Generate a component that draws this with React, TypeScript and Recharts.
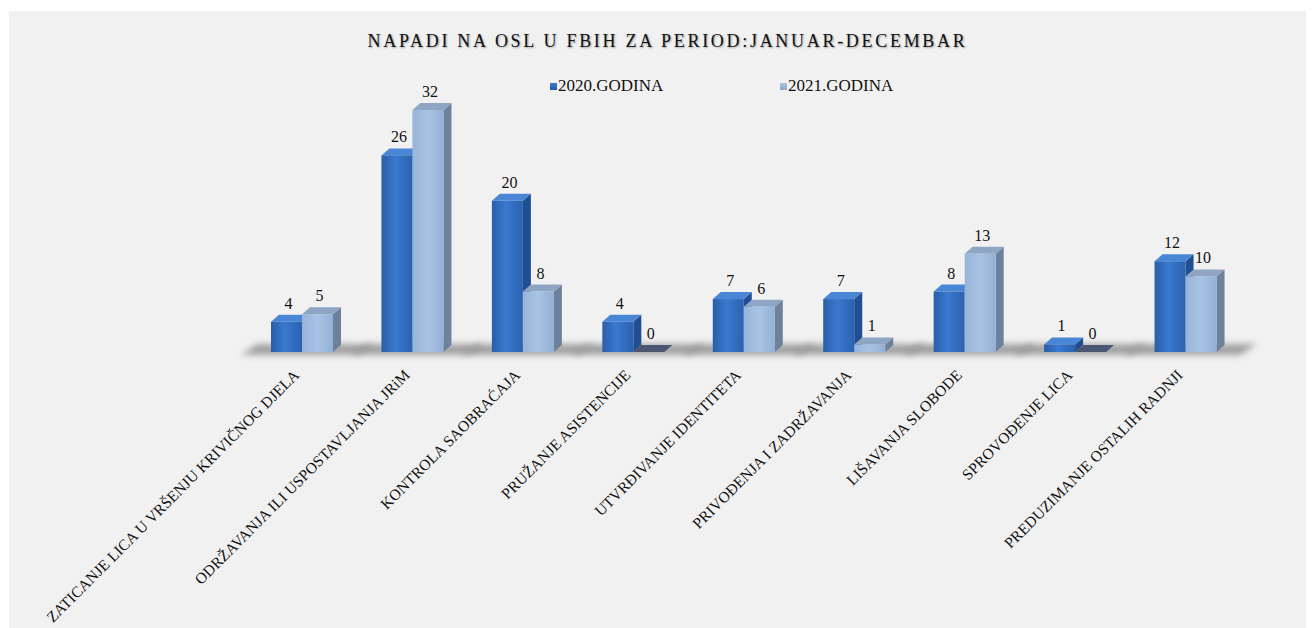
import { Bar, BarChart, LabelList, XAxis, YAxis } from 'recharts';

const categories = [
  'ZATICANJE LICA U VRŠENJU KRIVIČNOG DJELA',
  'ODRŽAVANJA ILI USPOSTAVLJANJA JRiM',
  'KONTROLA SAOBRAĆAJA',
  'PRUŽANJE ASISTENCIJE',
  'UTVRĐIVANJE IDENTITETA',
  'PRIVOĐENJA I ZADRŽAVANJA',
  'LIŠAVANJA SLOBODE',
  'SPROVOĐENJE LICA',
  'PREDUZIMANJE OSTALIH RADNJI',
];
const values2020 = [4, 26, 20, 4, 7, 7, 8, 1, 12];
const values2021 = [5, 32, 8, 0, 6, 1, 13, 0, 10];
const seriesNames = ['2020.GODINA', '2021.GODINA'];

const data = categories.map((name, i) => ({ name, y2020: values2020[i], y2021: values2021[i] }));

const FONT = '"Liberation Serif", serif';
const DX = 8;
const DY = 7;

const palette = {
  y2020: { front: 'url(#front2020)', top: '#4a86d6', side: '#1f4e92', flat: '#2f68b8' },
  y2021: { front: 'url(#front2021)', top: '#8ea6c4', side: '#6d819d', flat: '#4b5670' },
};

const makeShape = (key: 'y2020' | 'y2021') => (props: any) => {
  const { x, y, width, height } = props;
  const c = palette[key];
  const base = y + height;
  const w = width;
  // floor shadow for the whole group is drawn with the first series
  const shadow =
    key === 'y2020' ? (
      <polygon
        points={`${x - 30},${base + 3} ${x + 2 * w + 24},${base + 3} ${x + 2 * w + 40},${base - 8} ${x - 14},${base - 8}`}
        fill="#808080"
        opacity={0.7}
        filter="url(#blurShadow)"
      />
    ) : null;
  if (height <= 0.5) {
    return (
      <g>
        {shadow}
        <polygon
          points={`${x},${base} ${x + DX},${base - DY} ${x + w + DX},${base - DY} ${x + w},${base}`}
          fill={key === 'y2021' ? c.flat : c.top}
        />
      </g>
    );
  }
  return (
    <g>
      {shadow}
      <polygon points={`${x + w},${y} ${x + w + DX},${y - DY} ${x + w + DX},${base - DY} ${x + w},${base}`} fill={c.side} />
      <polygon points={`${x},${y} ${x + DX},${y - DY} ${x + w + DX},${y - DY} ${x + w},${y}`} fill={c.top} />
      <rect x={x} y={y} width={w} height={height} fill={c.front} />
    </g>
  );
};

const ValueLabel = (props: any) => {
  const { x, y, width, value } = props;
  return (
    <text x={x + width / 2 + 2} y={y - DY - 6} textAnchor="middle" fontFamily={FONT} fontSize={16} fill="#111">
      {value}
    </text>
  );
};

const CategoryTick = ({ x, y, payload }: any) => {
  const ax = x - 2;
  const ay = y + 24;
  return (
    <text
      x={ax}
      y={ay}
      transform={`rotate(-45, ${ax}, ${ay})`}
      textAnchor="end"
      fontFamily={FONT}
      fontSize={15.5}
      fill="#111"
    >
      {payload.value}
    </text>
  );
};

const App = () => (
  <div style={{ position: 'relative', marginTop: 3, marginLeft: 1, width: 1305, height: 617, background: '#f1f1f1' }}>
    <div
      style={{
        position: 'absolute',
        top: 20,
        left: 6,
        width: 1305,
        textAlign: 'center',
        fontFamily: FONT,
        fontSize: 18,
        letterSpacing: 2.7,
        color: '#111',
        textShadow: '1px 1px 2px rgba(0,0,0,0.35)',
      }}
    >
      NAPADI NA OSL U FBIH ZA PERIOD:JANUAR-DECEMBAR
    </div>
    {seriesNames.map((name, i) => (
      <div
        key={name}
        style={{
          position: 'absolute',
          left: i === 0 ? 541 : 771,
          top: 65,
          display: 'flex',
          alignItems: 'center',
          fontFamily: FONT,
          fontSize: 17,
          color: '#111',
        }}
      >
        <span
          style={{
            display: 'inline-block',
            width: 7,
            height: 7,
            marginRight: 1,
            background: i === 0 ? 'linear-gradient(#3b7bd0, #255aa5)' : 'linear-gradient(#b0c6e2, #8ba6c8)',
          }}
        />
        {name}
      </div>
    ))}
    <BarChart
      width={1305}
      height={617}
      data={data}
      margin={{ top: 99, right: 73, bottom: 6, left: 238 }}
      barSize={31}
      barGap={0}
      style={{ overflow: 'visible' }}
    >
      <defs>
        <linearGradient id="front2020" x1="0" y1="0" x2="1" y2="0">
          <stop offset="0%" stopColor="#2a5ea8" />
          <stop offset="45%" stopColor="#3979cf" />
          <stop offset="100%" stopColor="#2b62ae" />
        </linearGradient>
        <linearGradient id="front2021" x1="0" y1="0" x2="1" y2="0">
          <stop offset="0%" stopColor="#97b4d9" />
          <stop offset="50%" stopColor="#a9c3e4" />
          <stop offset="100%" stopColor="#93b0d5" />
        </linearGradient>
        <filter id="blurShadow" x="-20%" y="-100%" width="140%" height="300%">
          <feGaussianBlur stdDeviation="3" />
        </filter>
      </defs>
      <XAxis dataKey="name" interval={0} height={270} tickLine={false} axisLine={false} tickSize={0} tickMargin={0} tick={<CategoryTick />} />
      <YAxis hide domain={[0, 32]} />
      <Bar dataKey="y2020" name={seriesNames[0]} fill="#3979cf" shape={makeShape('y2020')} isAnimationActive={false}>
        <LabelList dataKey="y2020" content={<ValueLabel />} />
      </Bar>
      <Bar dataKey="y2021" name={seriesNames[1]} fill="#a9c3e4" shape={makeShape('y2021')} isAnimationActive={false}>
        <LabelList dataKey="y2021" content={<ValueLabel />} />
      </Bar>
    </BarChart>
  </div>
);

export default App;
